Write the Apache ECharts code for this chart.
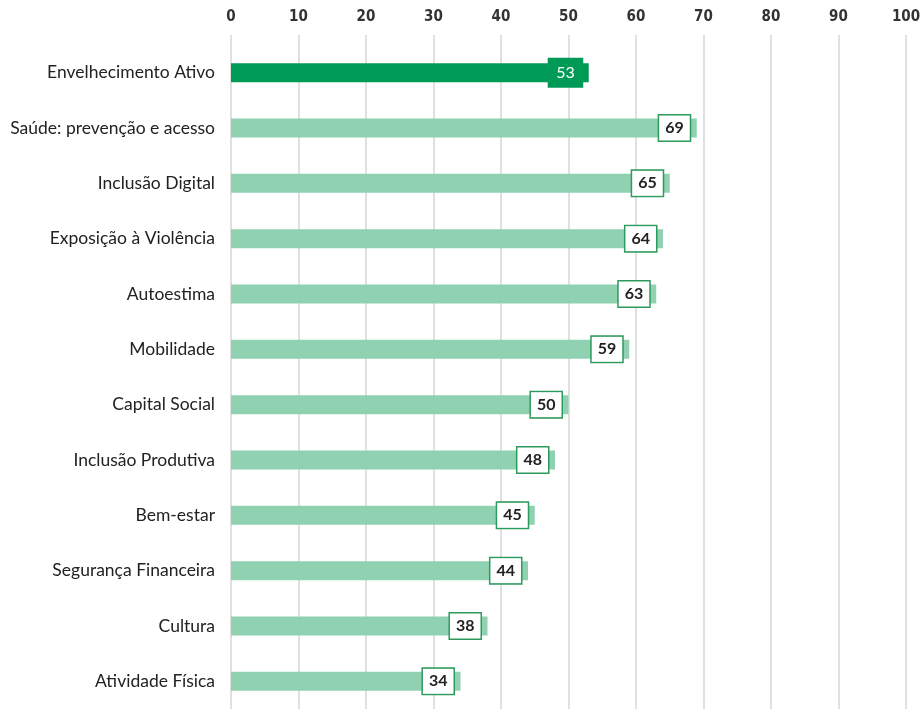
<!DOCTYPE html>
<html><head><meta charset="utf-8">
<script src="https://cdn.jsdelivr.net/npm/echarts@6/dist/echarts.min.js"></script>
<style>html,body{margin:0;padding:0;background:#fff}#c{width:924px;height:709px}</style>
</head><body><div id="c"></div>
<script>
const categories = ["Envelhecimento Ativo","Saúde: prevenção e acesso","Inclusão Digital","Exposição à Violência","Autoestima","Mobilidade","Capital Social","Inclusão Produtiva","Bem-estar","Segurança Financeira","Cultura","Atividade Física"];
const values = [53,69,65,64,63,59,50,48,45,44,38,34];
const ticks = [0,10,20,30,40,50,60,70,80,90,100];

const FONT = "Lato, 'Noto Sans', sans-serif";
const data = values.map((v,i)=> i===0 ? {
  value:v,
  itemStyle:{color:'#009a57'},
  label:{color:'#ffffff',fontWeight:'normal',backgroundColor:'#009a57',borderColor:'#009a57',padding:[6,7,4,7]}
} : v);

const chart = echarts.init(document.getElementById('c'));
chart.setOption({
  animation:false,
  grid:[{left:231,right:18,top:45,bottom:0},{left:231,right:18,top:35,bottom:0}],
  xAxis:[{type:'value',position:'top',min:0,max:100,interval:10,gridIndex:0,
    axisLine:{show:false},axisTick:{show:false},
    axisLabel:{margin:20,fontFamily:"'DejaVu Sans Condensed', 'Liberation Sans Narrow', sans-serif",fontSize:15,fontWeight:'bold',color:'#333',
      formatter:(v)=> ticks.includes(v)? String(v):''},
    splitLine:{show:false},z:3},
   {type:'value',position:'top',min:0,max:100,interval:10,gridIndex:1,
    axisLine:{show:false},axisTick:{show:false},axisLabel:{show:false},
    splitLine:{lineStyle:{color:'#d6d6d6',width:1.5}},z:0}],
  yAxis:[{type:'category',inverse:true,data:categories,gridIndex:0,
    axisLine:{show:false},axisTick:{show:false},
    axisLabel:{margin:16,fontFamily:FONT,fontSize:17.5,color:'#222'}},
   {type:'category',gridIndex:1,data:[''],show:false}],
  series:[{type:'bar',data:data,barWidth:19,xAxisIndex:0,yAxisIndex:0,z:5,
    itemStyle:{color:'#8fd1b1'},
    label:{show:true,position:'insideRight',distance:7,fontFamily:FONT,fontSize:16,fontWeight:'bold',color:'#222',
      backgroundColor:'#ffffff',borderColor:'#2e9b5e',borderWidth:1.5,padding:[5,6,3,6],lineHeight:17}
  }]
});
</script></body></html>
